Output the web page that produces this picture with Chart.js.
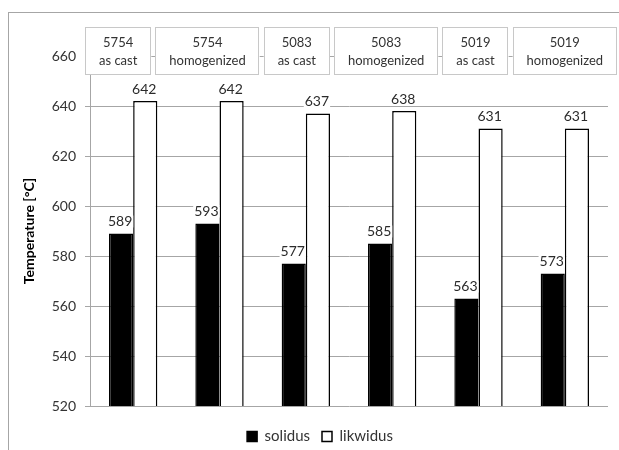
<!DOCTYPE html>
<html>
<head>
<meta charset="utf-8">
<script src="https://cdn.jsdelivr.net/npm/chart.js@4"></script>
<style>
  html, body { margin: 0; padding: 0; background: #fff; overflow: hidden; }
  #wrap { position: relative; width: 619px; height: 450px; }
  #frame { position: absolute; left: 8px; top: 12px; width: 700px; height: 500px;
           border-left: 1px solid #a6a6a6; border-top: 1px solid #a6a6a6; }
  canvas { position: absolute; left: 0; top: 0; }
</style>
</head>
<body>
<div id="wrap">
  <div id="frame"></div>
  <canvas id="chart" width="619" height="450"></canvas>
</div>
<script>
const categories = [
  ["5754", "as cast"], ["5754", "homogenized"],
  ["5083", "as cast"], ["5083", "homogenized"],
  ["5019", "as cast"], ["5019", "homogenized"]
];
const solidus = [589, 593, 577, 585, 563, 573];
const likwidus = [642, 642, 637, 638, 631, 631];
const yTicks = [520, 540, 560, 580, 600, 620, 640, 660];

const gridColor = "#a6a6a6";
const textColor = "#2b2b2b";

// value labels above bars + boxed category labels on top
const labelPlugin = {
  id: "labels",
  afterLayout(chart) {
    // nudge legend a bit right/down like the original
    chart.legend.left += 16;
    chart.legend.right += 16;
    chart.legend.top += 4;
  },
  afterDatasetsDraw(chart) {
    const ctx = chart.ctx;
    ctx.save();
    ctx.font = "14px Lato";
    ctx.textAlign = "center";
    ctx.textBaseline = "middle";
    chart.data.datasets.forEach((ds, di) => {
      chart.getDatasetMeta(di).data.forEach((bar, i) => {
        const txt = String(ds.data[i]);
        const w = ctx.measureText(txt).width;
        const y = bar.y - 12;
        ctx.fillStyle = "#fff";
        ctx.fillRect(bar.x - w / 2 - 2, y - 6, w + 2, 12);
        ctx.fillStyle = textColor;
        ctx.fillText(txt, bar.x - 1, y);
      });
    });
    ctx.restore();
  },
  afterDraw(chart) {
    const ctx = chart.ctx;
    const area = chart.chartArea;
    const labels = chart.data.labels;
    ctx.save();
    ctx.font = "13px Lato";
    ctx.textAlign = "center";
    ctx.textBaseline = "middle";
    const widths = labels.map(l => Math.max(...l.map(t => ctx.measureText(t).width)));
    const left = area.left - 5;
    const right = chart.width - 2;
    const gap = 4;
    const total = widths.reduce((a, b) => a + b, 0);
    const pad = (right - left - gap * (labels.length - 1) - total) / labels.length;
    const top = area.top - 29;
    let x = left;
    labels.forEach((l, i) => {
      const w = widths[i] + pad;
      ctx.fillStyle = "#fff";
      ctx.fillRect(x, top, w, 48);
      ctx.strokeStyle = "#c8c8c8";
      ctx.lineWidth = 1;
      ctx.strokeRect(Math.round(x) + 0.5, top + 0.5, Math.round(w) - 1, 47);
      ctx.fillStyle = "#333";
      ctx.fillText(l[0], x + w / 2, top + 16);
      ctx.fillText(l[1], x + w / 2, top + 34);
      x += w + gap;
    });
    ctx.restore();
  }
};

const ctx = document.getElementById("chart").getContext("2d");
const chart = new Chart(ctx, {
  type: "bar",
  data: {
    labels: categories,
    datasets: [
      {
        label: "solidus",
        data: solidus,
        backgroundColor: "#000",
        borderColor: "#000",
        borderWidth: 1.5,
      },
      {
        label: "likwidus",
        data: likwidus,
        backgroundColor: "#fff",
        borderColor: "#000",
        borderWidth: 1.5,
      },
    ],
  },
  options: {
    responsive: false,
    animation: false,
    events: [],
    layout: { padding: { top: 56, right: 11, bottom: 0, left: 0 } },
    datasets: {
      bar: { categoryPercentage: 0.56, barPercentage: 1.0 },
    },
    scales: {
      x: {
        grid: { display: false },
        border: { display: false },
        ticks: { display: false },
        afterFit: (s) => { s.height = 7; },
      },
      y: {
        min: 520,
        max: 660,
        afterBuildTicks: (s) => { s.ticks = yTicks.map(v => ({ value: v })); },
        afterFit: (s) => { s.width = 90; },
        grid: { color: gridColor, tickLength: 5, tickColor: gridColor },
        border: { color: gridColor },
        ticks: { color: "#333", font: { family: "Lato", size: 14 }, padding: 9 },
        title: {
          display: true,
          text: "Temperature [°C]",
          color: "#000",
          font: { family: "Lato", size: 14, weight: "bold" },
          padding: { top: 21, bottom: 0 },
        },
      },
    },
    plugins: {
      legend: {
        position: "bottom",
        labels: {
          color: "#333",
          font: { family: "Lato", size: 15 },
          boxWidth: 10,
          boxHeight: 10,
          padding: 12,
        },
      },
      tooltip: { enabled: false },
    },
  },
  plugins: [labelPlugin],
});
</script>
</body>
</html>
